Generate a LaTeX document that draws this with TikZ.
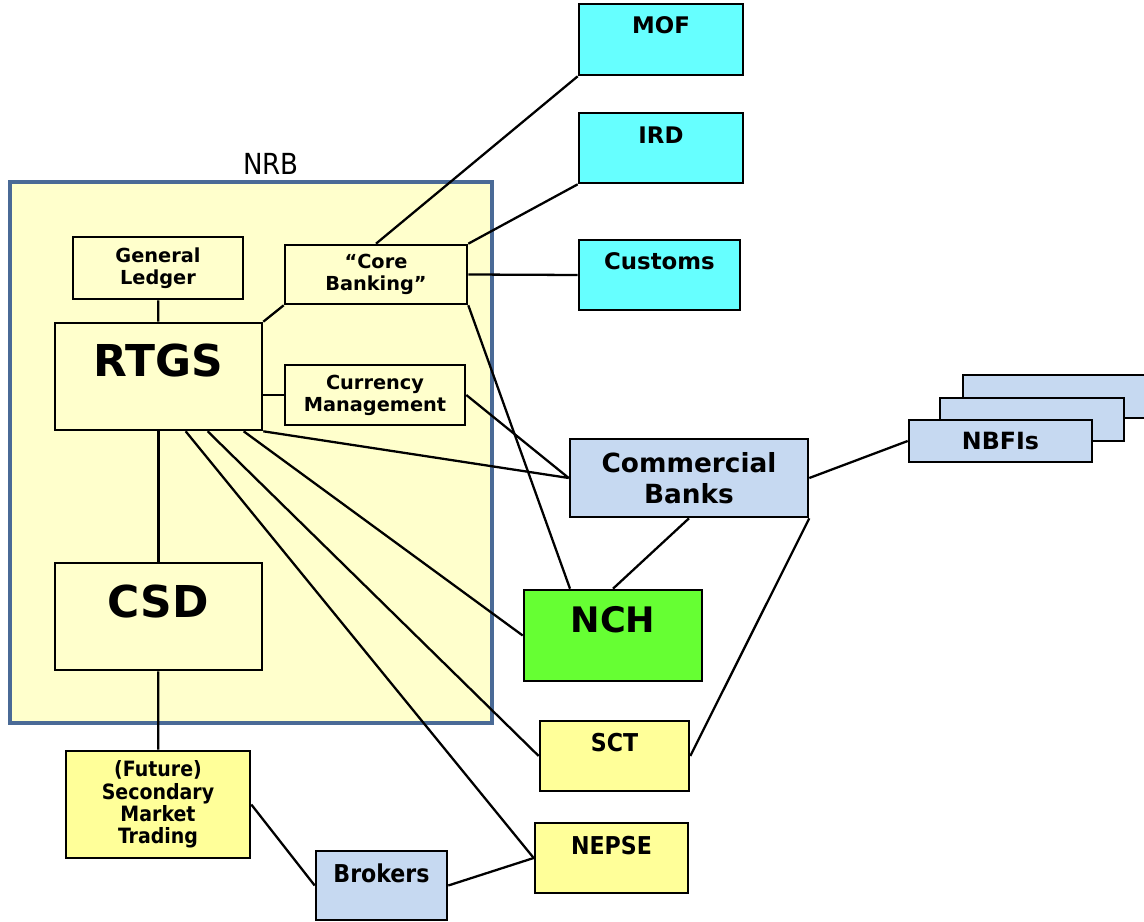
\documentclass[tikz,border=0pt]{standalone}
\usepackage{fontspec}
\setmainfont{DejaVu Sans}
\newfontfamily\narrowfont{DejaVu Sans Condensed}
\usepackage{tikz}
\usepackage{xcolor}
\usetikzlibrary{positioning, calc}

\definecolor{nrbfill}{HTML}{FFFFCC}
\definecolor{nrbline}{HTML}{4A6A96}
\definecolor{govcyan}{HTML}{66FFFF}
\definecolor{bankblue}{HTML}{C6D9F1}
\definecolor{clearinggreen}{HTML}{66FF33}
\definecolor{marketyellow}{HTML}{FFFF99}

\tikzset{
  unit/.style={draw, rectangle, line width=1.5pt, inner sep=0pt, align=center,
    font=\bfseries\fontsize{11}{12.5}\selectfont},
  toptext/.style 2 args={text height=#1, text depth=#2},
  gov/.style={unit, fill=govcyan, font=\bfseries\fontsize{13}{15}\selectfont},
  bank/.style={unit, fill=bankblue, font=\bfseries\fontsize{15}{17.6}\selectfont},
  market/.style={unit, fill=marketyellow, font=\narrowfont\bfseries\fontsize{14}{16}\selectfont},
  big/.style={unit, font=\bfseries\fontsize{25}{28}\selectfont},
  link/.style={line width=1.3pt},
}

\begin{document}
\begin{tikzpicture}[x=0.02cm, y=-0.02cm]
                % Page size of the reference, white behind everything
                \path[use as bounding box, fill=white] (0,0) rectangle (1144,922);

                % NRB frame and its title
                \node[draw=nrbline, line width=2pt, fill=nrbfill, minimum width=9.64cm, minimum height=10.82cm] (nrb) at (251,452.5) {};
                \node[font=\narrowfont\fontsize{16.5}{19}\selectfont] (nrbtitle) at (271,163.5) {NRB};

                % Systems inside NRB
                \node[unit, minimum width=3.4cm, minimum height=1.24cm] (gl) at (158,268) {General\\Ledger};
                \node[unit, minimum width=3.64cm, minimum height=1.18cm] (core) at (376,274.5) {“Core\\Banking”};
                \node[big, minimum width=4.14cm, toptext={1.08cm}{1.06cm}] (rtgs) at (158.5,376.5) {RTGS};
                \node[unit, minimum width=3.6cm, minimum height=1.2cm] (curr) at (375,395) {Currency\\Management};
                \node[big, minimum width=4.14cm, toptext={1.1cm}{1.04cm}] (csd) at (158.5,616.5) {CSD};

                % Government side
                \node[gov, minimum width=3.28cm, toptext={0.6cm}{0.82cm}] (mof) at (661,39.5) {MOF};
                \node[gov, minimum width=3.28cm, toptext={0.62cm}{0.78cm}] (ird) at (661,148) {IRD};
                \node[gov, minimum width=3.22cm, toptext={0.6cm}{0.8cm}] (customs) at (659.5,275) {Customs};

                % Banks and the NBFI stack (back to front)
                \node[bank, minimum width=4.76cm, minimum height=1.56cm] (comm) at (689,478) {Commercial\\Banks};
                \node[unit, fill=bankblue, minimum width=3.74cm, minimum height=0.86cm] (nbfiback) at (1056.5,396.5) {};
                \node[unit, fill=bankblue, minimum width=3.68cm, minimum height=0.86cm] (nbfimid) at (1032,419.5) {};
                \node[unit, fill=bankblue, minimum width=3.66cm, minimum height=0.84cm, font=\bfseries\fontsize{13.5}{16}\selectfont] (nbfi) at (1000.5,441) {NBFIs};

                % Clearing and market side
                \node[unit, fill=clearinggreen, minimum width=3.56cm, toptext={0.84cm}{0.98cm}, font=\bfseries\fontsize{20}{24}\selectfont] (nch) at (613,635.5) {NCH};
                \node[market, minimum width=2.98cm, toptext={0.6cm}{0.8cm}] (sct) at (614.5,756) {SCT};
                \node[market, minimum width=3.06cm, toptext={0.62cm}{0.78cm}] (nepse) at (611.5,858) {NEPSE};
                \node[market, fill=bankblue, minimum width=2.62cm, toptext={0.62cm}{0.76cm}] (brokers) at (381.5,885.5) {Brokers};
                \node[market, minimum width=3.68cm, minimum height=2.14cm, font=\narrowfont\bfseries\fontsize{12}{12.7}\selectfont] (future) at (158,804.5) {(Future)\\Secondary\\Market\\Trading};

                % Links inside NRB
                \draw[link] (gl) -- (rtgs);
                \draw[link] (core.south west) -- (rtgs.north east);
                \draw[link] (rtgs.east |- curr.west) -- (curr.west);
                \draw[link] (rtgs) -- (csd);

                % Core Banking to government and NCH
                \draw[link] (core.north) -- (mof.south west);
                \draw[link] (core.north east) -- (ird.south west);
                \draw[link] (core.east) -- (customs.west);
                \draw[link] (core.south east) -- ([xshift=-0.86cm]nch.north);

                % RTGS and Currency Management to the outside
                \draw[link] (curr.east) -- (comm.west);
                \draw[link] (rtgs.south east) -- (comm.west);
                \draw[link] ([xshift=2.64cm]rtgs.south west) -- (nepse.west);
                \draw[link] ([xshift=3.08cm]rtgs.south west) -- (sct.west);
                \draw[link] ([xshift=3.8cm]rtgs.south west) -- (nch.west);

                % Commercial Banks
                \draw[link] (comm.south) -- (nch.north);
                \draw[link] (comm.south east) -- (sct.east);
                \draw[link] (comm.east) -- (nbfi.west);

                % Securities chain
                \draw[link] (csd) -- (future);
                \draw[link] (future.east) -- (brokers.west);
                \draw[link] (brokers.east) -- (nepse.west);
            \end{tikzpicture}
\end{document}
